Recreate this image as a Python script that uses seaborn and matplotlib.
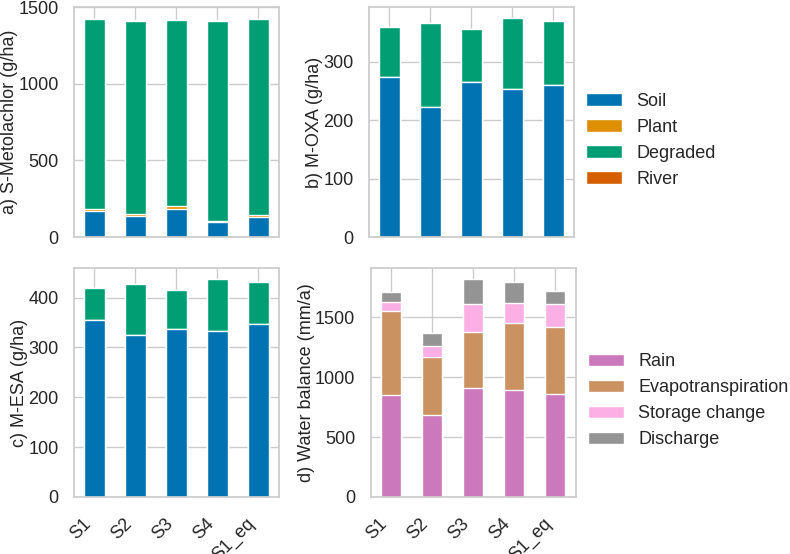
import numpy as np
import matplotlib
matplotlib.use("Agg")
import matplotlib.pyplot as plt
import seaborn as sns
from matplotlib.patches import Patch

scenarios = ["S1", "S2", "S3", "S4", "S1_eq"]

# a) S-Metolachlor (g/ha)
smoc_soil = [170, 140, 185, 100, 130]
smoc_plant = [15, 10, 15, 8, 12]
smoc_degraded = [1237, 1263, 1215, 1305, 1280]
smoc_river = [3, 2, 3, 2, 3]

# b) M-OXA (g/ha)
oxa_soil = [274, 222, 266, 253, 261]
oxa_plant = [0, 0, 0, 0, 0]
oxa_degraded = [86, 144, 90, 122, 109]
oxa_river = [0, 0, 0, 0, 0]

# c) M-ESA (g/ha)
esa_soil = [355, 324, 336, 333, 346]
esa_plant = [0, 0, 0, 0, 0]
esa_degraded = [65, 104, 79, 104, 86]
esa_river = [0, 0, 0, 0, 0]

# d) Water balance (mm/a)
wb_rain = [853, 683, 906, 892, 856]
wb_et = [694, 486, 472, 558, 558]
wb_storage = [75, 92, 230, 167, 194]
wb_discharge = [89, 106, 209, 175, 111]

mass_labels = ["Soil", "Plant", "Degraded", "River"]
water_labels = ["Rain", "Evapotranspiration", "Storage change", "Discharge"]

sns.set_theme(style="whitegrid")
plt.rcParams["font.family"] = ["Liberation Sans", "DejaVu Sans"]
FS = 13

pal = sns.color_palette("colorblind")
mass_colors = [pal[0], pal[1], pal[2], pal[3]]
water_colors = [pal[4], pal[5], pal[6], pal[7]]

fig = plt.figure(figsize=(7.9, 5.54), dpi=100)
W = 0.2595
axa = fig.add_axes([0.0935, 0.572, W, 0.415])
axb = fig.add_axes([0.467, 0.572, W, 0.415])
axc = fig.add_axes([0.0935, 0.1029, W, 0.413])
axd = fig.add_axes([0.469, 0.1029, W, 0.413])


def stacked(ax, parts, colors):
    cum = np.cumsum(np.array(parts, dtype=float), axis=0)
    for i in reversed(range(len(parts))):
        sns.barplot(x=scenarios, y=cum[i], color=colors[i], width=0.5,
                    saturation=1, edgecolor="white", linewidth=1, ax=ax)
    ax.xaxis.grid(True)
    ax.set_axisbelow(True)
    ax.tick_params(axis="x", labelsize=FS, pad=7)
    ax.tick_params(axis="y", labelsize=FS, pad=5)


stacked(axa, [smoc_soil, smoc_plant, smoc_degraded, smoc_river], mass_colors)
stacked(axb, [oxa_soil, oxa_plant, oxa_degraded, oxa_river], mass_colors)
stacked(axc, [esa_soil, esa_plant, esa_degraded, esa_river], mass_colors)
stacked(axd, [wb_rain, wb_et, wb_storage, wb_discharge], water_colors)

axa.set_ylabel("a) S-Metolachlor (g/ha)", fontsize=FS, labelpad=0)
axb.set_ylabel("b) M-OXA (g/ha)", fontsize=FS, labelpad=0)
axc.set_ylabel("c) M-ESA (g/ha)", fontsize=FS, labelpad=0)
axd.set_ylabel("d) Water balance (mm/a)", fontsize=FS, labelpad=0)

axa.set_ylim(0, 1500)
axa.set_yticks([0, 500, 1000, 1500])
axb.set_yticks([0, 100, 200, 300])
axc.set_yticks([0, 100, 200, 300, 400])
axd.set_yticks([0, 500, 1000, 1500])

for ax in (axa, axb):
    ax.set_xticklabels([])
for ax in (axc, axd):
    for lbl in ax.get_xticklabels():
        lbl.set_rotation(45)
        lbl.set_ha("right")
        lbl.set_fontsize(FS)

mh = [Patch(facecolor=c, edgecolor="white", label=l) for c, l in zip(mass_colors, mass_labels)]
wh = [Patch(facecolor=c, edgecolor="white", label=l) for c, l in zip(water_colors, water_labels)]
axb.legend(handles=mh, loc="center left", bbox_to_anchor=(0.98, 0.42),
           frameon=False, fontsize=FS)
axd.legend(handles=wh, loc="center left", bbox_to_anchor=(0.98, 0.42),
           frameon=False, fontsize=FS)

fig.savefig("out.png", dpi=100)
